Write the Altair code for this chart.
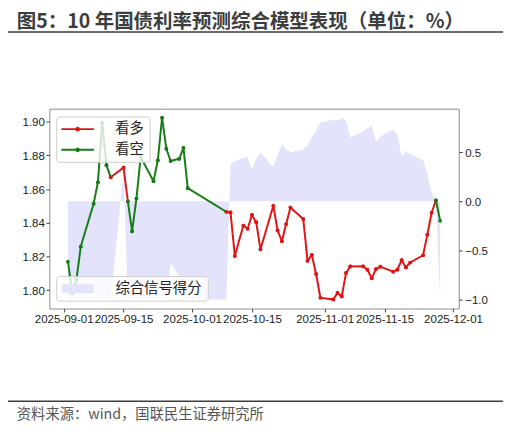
import altair as alt
import pandas as pd

TITLE = "图5：10 年国债利率预测综合模型表现（单位：%）"
SOURCE = "资料来源：wind，国联民生证券研究所"

dates = [
    "2025-09-02", "2025-09-03", "2025-09-04", "2025-09-05", "2025-09-08", "2025-09-09",
    "2025-09-10", "2025-09-11", "2025-09-12", "2025-09-15", "2025-09-16", "2025-09-17",
    "2025-09-18", "2025-09-19", "2025-09-22", "2025-09-23", "2025-09-24", "2025-09-25",
    "2025-09-26", "2025-09-28", "2025-09-29", "2025-09-30",
    "2025-10-09", "2025-10-10", "2025-10-11", "2025-10-13", "2025-10-14", "2025-10-15",
    "2025-10-16", "2025-10-17", "2025-10-20", "2025-10-21", "2025-10-22", "2025-10-23",
    "2025-10-24", "2025-10-27", "2025-10-28", "2025-10-29", "2025-10-30", "2025-10-31",
    "2025-11-03", "2025-11-04", "2025-11-05", "2025-11-06", "2025-11-07", "2025-11-10",
    "2025-11-11", "2025-11-12", "2025-11-13", "2025-11-14", "2025-11-17", "2025-11-18",
    "2025-11-19", "2025-11-20", "2025-11-21", "2025-11-24", "2025-11-25", "2025-11-26",
    "2025-11-27", "2025-11-28",
]

# 10年国债收益率 (%)
yields = [
    1.817, 1.7985, 1.8066, 1.826, 1.8513, 1.8641, 1.8994, 1.8742, 1.867, 1.8728, 1.8528,
    1.835, 1.8544, 1.879, 1.8647, 1.8771, 1.9023, 1.8839, 1.8767, 1.878, 1.8845, 1.8606,
    1.8466, 1.8462, 1.8204, 1.8384, 1.8365, 1.8447, 1.8404, 1.8243, 1.8501, 1.8355,
    1.8291, 1.8393, 1.8491, 1.8423, 1.8175, 1.821, 1.8097, 1.7956,
    1.7946, 1.7985, 1.7964, 1.8103, 1.8142, 1.8142, 1.8122, 1.8072, 1.8126, 1.814,
    1.8111, 1.8122, 1.8179, 1.8136, 1.8165, 1.8208, 1.833, 1.846, 1.8534, 1.8412,
]

# 综合信号得分 (right axis)
score = [
    -1, -1, -1, -1, -1, -1, -1, -1, -1, 0.3, -1, -1, -1, -1, -1, -1, -1, -1,
    -0.63, -0.76, -1, -1,
    -1, 0.38, 0.41, 0.44, 0.45, 0.32, 0.43, 0.50, 0.35, 0.47, 0.58, 0.53, 0.50,
    0.53, 0.57, 0.65, 0.72, 0.80,
    0.83, 0.82, 0.85, 0.82, 0.65, 0.71, 0.74, 0.77, 0.61, 0.66, 0.73, 0.67, 0.46,
    0.51, 0.48, 0.42, 0.28, 0.08, 0.0, -1.0,
]

sides = ["看多", "看空"]
side_colors = ["#e01414", "#157d15"]
score_label = "综合信号得分"

CJK = "Noto Sans CJK SC"
LATIN = "Liberation Sans"

# split the yield line into segments, red where the signal is bullish
rows = []
for i in range(len(dates) - 1):
    side = sides[0] if max(score[i], score[i + 1]) > 0 else sides[1]
    for j in (i, i + 1):
        rows.append({"date": dates[j], "yld": yields[j], "seg": i, "side": side})
lines_df = pd.DataFrame(rows)
score_df = pd.DataFrame({"date": dates, "score": score, "name": score_label})

x_enc = alt.X(
    "date:T",
    title=None,
    scale=alt.Scale(
        type="utc",
        domain=[
            alt.DateTime(year=2025, month=8, date=28, hours=15, minutes=36, utc=True),
            alt.DateTime(year=2025, month=12, date=2, hours=8, minutes=24, utc=True),
        ],
    ),
    axis=alt.Axis(
        values=[
            alt.DateTime(year=2025, month=m, date=d, utc=True)
            for m, d in [(9, 1), (9, 15), (10, 1), (10, 15), (11, 1), (11, 15), (12, 1)]
        ],
        format="%Y-%m-%d",
        labelOverlap=False,
        labelFlush=False,
        labelBound=False,
        grid=False,
        domain=False,
        tickSize=3.5,
        tickColor="#444",
        labelPadding=2,
        labelFont=LATIN,
        labelFontSize=11.7,
        labelColor="#222",
    ),
)

area = alt.Chart(score_df).mark_area(interpolate="linear", opacity=1).encode(
    x=x_enc,
    y=alt.Y(
        "score:Q",
        title=None,
        scale=alt.Scale(domain=[-1.0925, 0.9425], nice=False, zero=False),
        axis=alt.Axis(
            orient="right", values=[-1, -0.5, 0, 0.5], format=".1f", grid=False,
            domain=False, tickSize=3.5, tickColor="#444", labelPadding=2.5,
            labelFont=LATIN, labelFontSize=11.7, labelColor="#222",
        ),
    ),
    y2=alt.datum(0),
    fill=alt.Fill(
        "name:N",
        scale=alt.Scale(domain=[score_label], range=["#e3e3fb"]),
        legend=alt.Legend(
            title=None, orient="none", legendX=7, legendY=170,
            fillColor="rgba(255,255,255,0.8)", strokeColor="#cccccc", cornerRadius=3,
            padding=5.5, symbolType="M-2.9,-0.8H2.9V0.8H-2.9Z", symbolSize=121,
            symbolStrokeWidth=0, symbolOffset=9, labelOffset=31,
            labelFont=CJK, labelFontSize=14.6, labelColor="#222",
        ),
    ),
)

yield_lines = alt.Chart(lines_df).mark_line(
    strokeWidth=2,
    point=alt.OverlayMarkDef(filled=True, size=14),
).encode(
    x=x_enc,
    y=alt.Y(
        "yld:Q",
        title=None,
        scale=alt.Scale(domain=[1.7892, 1.9077], nice=False, zero=False),
        axis=alt.Axis(
            orient="left", values=[1.80, 1.82, 1.84, 1.86, 1.88, 1.90], format=".2f",
            grid=False, domain=False, tickSize=3.5, tickColor="#444", labelPadding=1.5,
            labelFont=LATIN, labelFontSize=11.7, labelColor="#222",
        ),
    ),
    color=alt.Color(
        "side:N",
        scale=alt.Scale(domain=sides, range=side_colors),
        legend=alt.Legend(
            title=None, orient="none", legendX=7, legendY=8,
            fillColor="rgba(255,255,255,0.8)", strokeColor="#cccccc", cornerRadius=3,
            padding=5.5, rowPadding=6,
            symbolType="M-3,0H3M-0.25,0A0.25,0.25,0,1,1,0.25,0A0.25,0.25,0,1,1,-0.25,0",
            symbolSize=121, symbolStrokeWidth=2, symbolOffset=9, labelOffset=31,
            labelFont=CJK, labelFontSize=14.5, labelColor="#222",
        ),
    ),
    detail="seg:N",
)

title_text = alt.Chart(pd.DataFrame({"t": [TITLE]})).mark_text(
    align="left", baseline="middle", font=CJK, fontSize=19.8, fontWeight="bold",
    color="#3d3d3d",
).encode(x=alt.value(-33), y=alt.value(-87.6), text="t:N")

title_rule = alt.Chart(pd.DataFrame({"k": [0]})).mark_rule(
    color="#3d3d3d", strokeWidth=1.6
).encode(x=alt.value(-42), x2=alt.value(461), y=alt.value(-78))

source_rule = alt.Chart(pd.DataFrame({"k": [0]})).mark_rule(
    color="#3d3d3d", strokeWidth=1.6
).encode(x=alt.value(-42), x2=alt.value(461), y=alt.value(297.3))

source_text = alt.Chart(pd.DataFrame({"t": [SOURCE]})).mark_text(
    align="left", baseline="middle", font=CJK, fontSize=14.5, color="#555555",
).encode(x=alt.value(-33), y=alt.value(311.5), text="t:N")

chart = alt.layer(
    area, yield_lines, title_text, title_rule, source_rule, source_text
).resolve_scale(
    y="independent"
).properties(
    width=416,
    height=203,
    padding={"left": 42, "top": 99, "right": 50, "bottom": 114},
    autosize=alt.AutoSizeParams(type="none"),
).configure_view(
    stroke="#8a8a8a", strokeWidth=1
)

chart.save("out.html", embed_options={"renderer": "svg", "actions": False})
